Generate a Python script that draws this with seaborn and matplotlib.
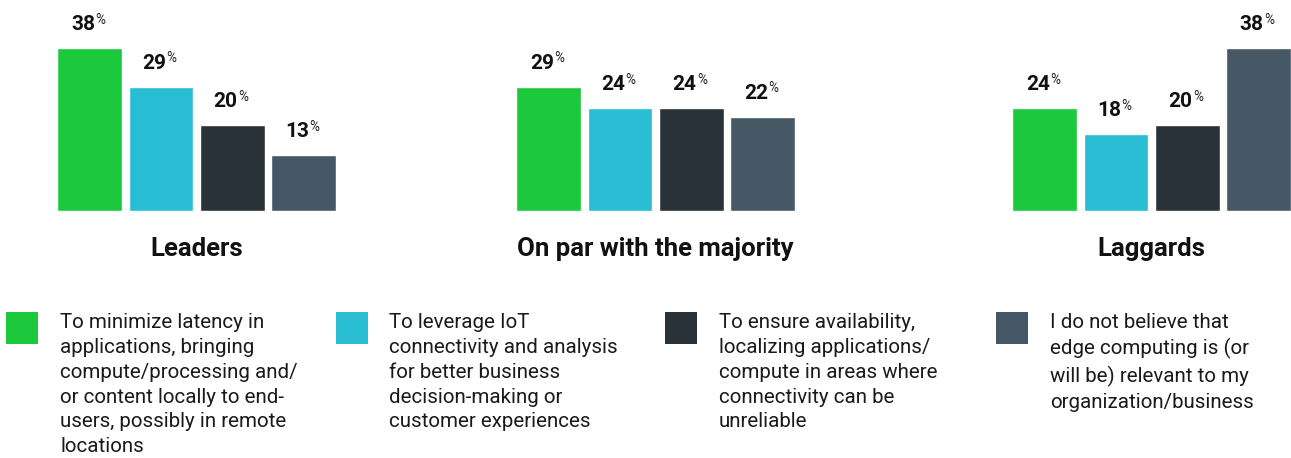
import matplotlib
matplotlib.use("Agg")
import matplotlib.pyplot as plt
from matplotlib.patches import Rectangle
import seaborn as sns
import pandas as pd

# ---- data ----
groups = ["Leaders", "On par with the majority", "Laggards"]
reasons = [
    "To minimize latency in\napplications, bringing\ncompute/processing and/\nor content locally to end-\nusers, possibly in remote\nlocations",
    "To leverage IoT\nconnectivity and analysis\nfor better business\ndecision-making or\ncustomer experiences",
    "To ensure availability,\nlocalizing applications/\ncompute in areas where\nconnectivity can be\nunreliable",
    "I do not believe that\nedge computing is (or\nwill be) relevant to my\norganization/business",
]
leaders = [38, 29, 20, 13]
on_par = [29, 24, 24, 22]
laggards = [24, 18, 20, 38]
colors = ["#1CC83C", "#28BDD2", "#283238", "#465865"]

sns.set_theme(style="white")
plt.rcParams["font.family"] = ["Roboto", "DejaVu Sans"]

W, H = 1291, 458
fig = plt.figure(figsize=(W / 100, H / 100), dpi=100)

pitch = 71.3
ax_lefts = [54, 513, 1009]
base_y = 211
px_per_unit = 4.29
values = [leaders, on_par, laggards]
keys = ["r0", "r1", "r2", "r3"]

for g, left, vals in zip(groups, ax_lefts, values):
    ax = fig.add_axes([left / W, (H - base_y) / H, 4 * pitch / W, base_y / H])
    df = pd.DataFrame({"reason": keys, "value": vals})
    sns.barplot(data=df, x="reason", y="value", hue="reason", palette=colors,
                width=0.91, saturation=1, legend=False, ax=ax)
    ax.set_xlim(-0.5, 3.5)
    ax.set_ylim(0, base_y / px_per_unit)
    ax.axis("off")
    for i, v in enumerate(vals):
        ax.annotate(f"{v}", xy=(i, v), xytext=(3.8, 13), textcoords="offset points",
                    ha="right", va="baseline", fontsize=15, fontweight="bold",
                    color="#111111")
        ax.annotate("%", xy=(i, v), xytext=(4.0, 25.4), textcoords="offset points",
                    ha="left", va="top", fontsize=9.8, color="#222222")
    cx = (left + 2 * pitch) / W
    fig.text(cx, (H - 256) / H, g, ha="center", va="baseline",
             fontsize=18.5, fontweight="bold", color="#111111")

# ---- legend ----
sq_x = [6, 336, 665, 996]
txt_x = [60, 389, 719, 1050]
for sx, tx, c, lab in zip(sq_x, txt_x, colors, reasons):
    fig.add_artist(Rectangle((sx / W, (H - 344) / H), 32 / W, 32 / H,
                             transform=fig.transFigure, color=c, lw=0))
    fig.text(tx / W, (H - 313) / H, lab, ha="left", va="top", fontsize=14.8,
             color="#1a1a1a", linespacing=1.39)

fig.savefig("out.png", dpi=100)
